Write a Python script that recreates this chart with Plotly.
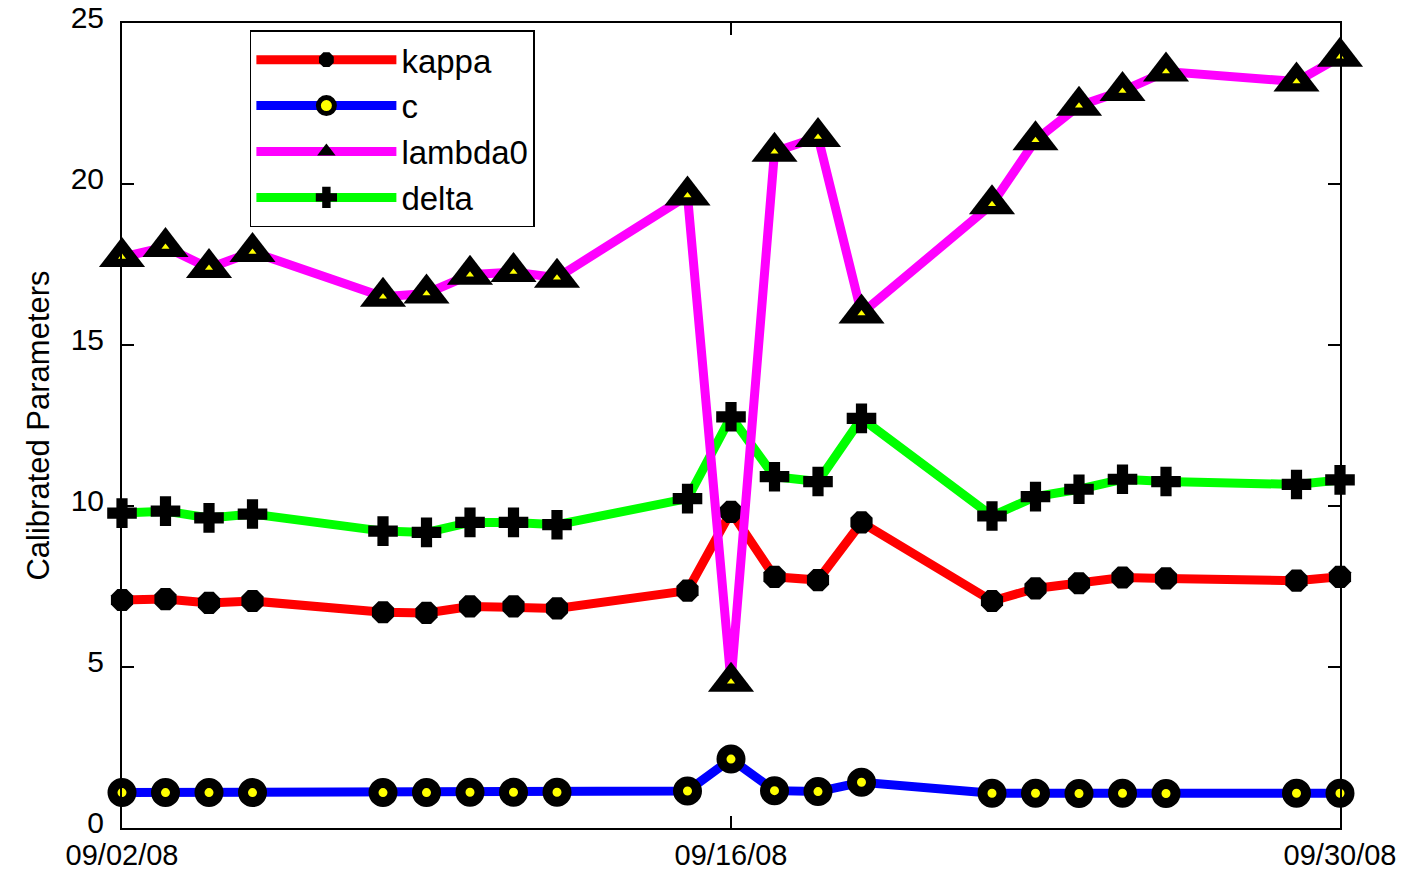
import plotly.graph_objects as go

dates = ["2008-09-02", "2008-09-03", "2008-09-04", "2008-09-05", "2008-09-08",
         "2008-09-09", "2008-09-10", "2008-09-11", "2008-09-12", "2008-09-15",
         "2008-09-16", "2008-09-17", "2008-09-18", "2008-09-19", "2008-09-22",
         "2008-09-23", "2008-09-24", "2008-09-25", "2008-09-26", "2008-09-29",
         "2008-09-30"]

kappa = [7.08, 7.11, 6.99, 7.05, 6.70, 6.68, 6.88, 6.88, 6.82, 7.37, 9.82,
         7.80, 7.70, 9.49, 7.05, 7.44, 7.60, 7.78, 7.75, 7.68, 7.80]
c = [1.10, 1.10, 1.10, 1.10, 1.10, 1.10, 1.11, 1.11, 1.11, 1.15, 2.14,
     1.16, 1.13, 1.42, 1.08, 1.08, 1.07, 1.08, 1.07, 1.08, 1.08]
lambda0 = [17.73, 18.04, 17.39, 17.89, 16.50, 16.60, 17.18, 17.27, 17.09, 19.64, 4.54,
           21.00, 21.46, 15.98, 19.37, 21.36, 22.43, 22.89, 23.49, 23.18, 23.95]
delta = [9.78, 9.84, 9.63, 9.75, 9.22, 9.18, 9.49, 9.49, 9.42, 10.23, 12.77,
         10.91, 10.76, 12.72, 9.69, 10.29, 10.52, 10.83, 10.76, 10.67, 10.81]

tick_vals = ["2008-09-02", "2008-09-16", "2008-09-30"]
tick_text = ["09/02/08", "09/16/08", "09/30/08"]

FONT = "Liberation Sans, Arial, sans-serif"

fig = go.Figure()

fig.add_trace(go.Scatter(
    x=dates, y=delta, name="delta", mode="lines+markers", legendrank=4,
    line=dict(color="#00FF00", width=9),
    marker=dict(symbol="cross", size=23, color="black",
                line=dict(color="black", width=2)),
    cliponaxis=False))
fig.add_trace(go.Scatter(
    x=dates, y=kappa, name="kappa", mode="lines+markers", legendrank=1,
    line=dict(color="#FF0000", width=9),
    marker=dict(symbol="octagon", size=24, color="black"),
    cliponaxis=False))
fig.add_trace(go.Scatter(
    x=dates, y=c, name="c", mode="lines+markers", legendrank=2,
    line=dict(color="#0000FF", width=9),
    marker=dict(symbol="circle", size=19, color="#FFFF00",
                line=dict(color="black", width=10)),
    cliponaxis=False))
fig.add_trace(go.Scatter(
    x=dates, y=lambda0, name="lambda0", mode="lines+markers", legendrank=3,
    line=dict(color="#FF00FF", width=9),
    marker=dict(symbol="triangle-up", size=40, color="black"),
    cliponaxis=False))
fig.add_trace(go.Scatter(
    x=dates, y=lambda0, name="lambda0", mode="markers", showlegend=False,
    marker=dict(symbol="triangle-up", size=7, color="#FFFF00"),
    cliponaxis=False, hoverinfo="skip"))

fig.update_layout(
    width=1416, height=873,
    margin=dict(l=122, r=76, t=23, b=45),
    paper_bgcolor="white", plot_bgcolor="white",
    font=dict(family=FONT, size=32, color="black"),
    legend=dict(
        x=0.105, y=0.991, xanchor="left", yanchor="top",
        bgcolor="white", bordercolor="black", borderwidth=1.5,
        font=dict(family=FONT, size=33, color="black"),
        itemwidth=140, tracegroupgap=0,
        traceorder="normal",
    ),
    showlegend=True,
)

fig.update_xaxes(
    type="date", automargin=False,
    range=["2008-09-02", "2008-09-30"],
    tickmode="array", tickvals=tick_vals, ticktext=tick_text,
    ticks="inside", ticklen=12, tickwidth=1.5, tickcolor="black",
    showline=True, linecolor="black", linewidth=2, mirror="ticks",
    showgrid=False, zeroline=False,
    ticklabelstandoff=0,
    tickfont=dict(family=FONT, size=29, color="black"),
)
fig.update_yaxes(
    range=[0, 25], automargin=False,
    tickmode="array", tickvals=[0, 5, 10, 15, 20, 25],
    ticks="inside", ticklen=12, tickwidth=1.5, tickcolor="black",
    showline=True, linecolor="black", linewidth=2, mirror="ticks",
    showgrid=False, zeroline=False,
    ticklabelstandoff=10, ticklabelshift=-6,
    tickfont=dict(family=FONT, size=30, color="black"),
    title=dict(text="Calibrated Parameters", standoff=12,
               font=dict(family=FONT, size=31, color="black")),
)

fig.write_html("out.html")
